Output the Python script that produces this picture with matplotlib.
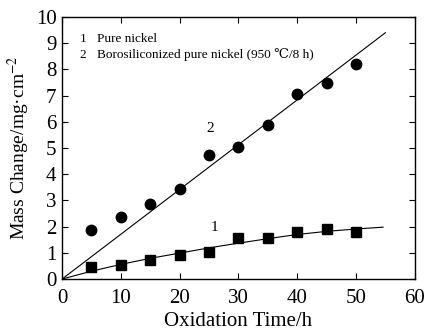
import numpy as np
import matplotlib
matplotlib.use('Agg')
import matplotlib.pyplot as plt

plt.rcParams['font.family'] = ['Liberation Serif', 'DejaVu Serif']
plt.rcParams['mathtext.fontset'] = 'stix'

# measured points
time_h = [5, 10, 15, 20, 25, 30, 35, 40, 45, 50]
pure_ni = [0.45, 0.55, 0.73, 0.92, 1.05, 1.55, 1.57, 1.80, 1.92, 1.78]
boro_ni = [1.87, 2.35, 2.85, 3.42, 4.73, 5.02, 5.88, 7.08, 7.48, 8.22]

# fitted curves
fit1_x = [0, 5, 10, 15, 20, 25, 30, 35, 40, 45, 50, 54.6]
fit1_y = [0, 0.30, 0.56, 0.79, 0.99, 1.19, 1.37, 1.54, 1.70, 1.82, 1.91, 1.98]
fit2_x = [0, 55]
fit2_y = [0, 9.40]

fig = plt.figure(figsize=(4.25, 3.33), dpi=100)
ax = fig.add_axes([0.146, 0.162, 0.83, 0.787])

ax.plot(fit1_x, fit1_y, color='black', lw=0.8)
ax.plot(fit2_x, fit2_y, color='black', lw=0.8)
ax.plot(time_h, pure_ni, 's', color='black', ms=6.5)
ax.plot(time_h, boro_ni, 'o', color='black', ms=7.5)

ax.text(26, 1.95, '1', fontsize=11, ha='center', va='center')
ax.text(25.2, 5.76, '2', fontsize=11, ha='center', va='center')

ax.text(3.0, 9.16, '1', fontsize=9.5, va='center')
ax.text(6.0, 9.16, 'Pure nickel', fontsize=9.5, va='center')
ax.text(3.0, 8.55, '2', fontsize=9.5, va='center')
ax.text(6.0, 8.55, 'Borosiliconized pure nickel (950 \u2103/8 h)',
        fontsize=9.5, va='center')

ax.set_xlim(0, 60)
ax.set_ylim(0, 10)
ax.set_xticks(range(0, 61, 10))
ax.set_yticks(range(0, 11))
ax.tick_params(direction='in', top=True, right=True, length=4, width=0.8,
               labelsize=15)
ax.tick_params(axis='x', pad=7)
ax.tick_params(axis='y', pad=4)
for s in ax.spines.values():
    s.set_linewidth(1.0)

ax.set_xlabel('Oxidation Time/h', fontsize=15, labelpad=3)
ax.set_ylabel('Mass Change/mg\u00b7cm$^{-2}$', fontsize=14, labelpad=3)

fig.savefig('out.png', dpi=100)
